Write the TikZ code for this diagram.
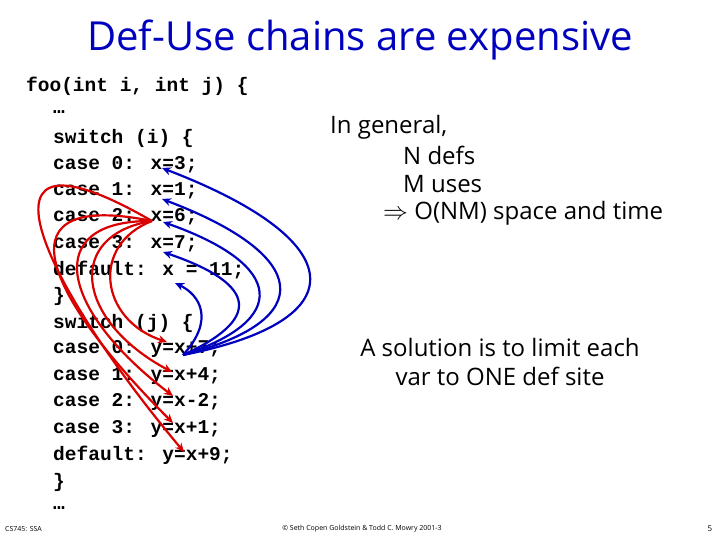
\documentclass[tikz,border=0pt]{standalone}
\usepackage{fontspec}
\setmainfont{Open Sans}
\newfontfamily\codefont{Liberation Mono}
\usetikzlibrary{arrows.meta}
\begin{document}
\begin{tikzpicture}[x=1pt,y=-1pt,
  code/.style={anchor=west,inner sep=0pt,font=\codefont\bfseries\fontsize{19.5}{19.5}\selectfont},
  txt/.style={inner sep=0pt,font=\fontsize{24}{29}\selectfont},
  blu/.style={draw=blue!75!black,line width=2.2pt,-{Stealth[length=9pt,width=8pt]}},
  rd/.style={draw=red!85!black,line width=2.2pt,-{Stealth[length=9pt,width=8pt]}}]
\useasboundingbox (0,0) rectangle (720,540);
\node[inner sep=0pt,text=blue!75!black,font=\fontsize{40}{44}\selectfont] (title) at (360,40) {Def-Use chains are expensive};
\node[code] (l0) at (26,86) {foo(int i, int j) \{};
\foreach \t/\y [count=\i] in {…/112, switch (i) \{/138, case 0: x=3;/165, case 1: x=1;/191, case 2: x=6;/217, case 3: x=7;/244, default: x = 11;/270, \}/296, switch (j) \{/323, case 0: y=x+7;/349, case 1: y=x+4;/376, case 2: y=x-2;/402, case 3: y=x+1;/429, default: y=x+9;/455, \}/482, …/508}
  \node[code] (l\i) at (53,\y) {\t};
\node[txt,anchor=west] (g1) at (330,127) {In general,};
\node[txt,anchor=west] (g2) at (403,155) {N defs};
\node[txt,anchor=west] (g3) at (403,184) {M uses};
\node[txt,anchor=west] (g4) at (383,213) {$\Rightarrow$ O(NM) space and time};
\node[txt,align=center] (sol) at (500,362) {A solution is to limit each\\var to ONE def site};
\node[inner sep=0pt,font=\fontsize{7}{8}\selectfont,anchor=west] (f1) at (5,529) {CS745: SSA};
\node[inner sep=0pt,font=\fontsize{7}{8}\selectfont] (f2) at (362,529) {© Seth Copen Goldstein \& Todd C. Mowry 2001-3};
\node[inner sep=0pt,font=\fontsize{8}{8}\selectfont] (f3) at (710,529) {5};
\coordinate (u) at (183,355);
\coordinate (d0) at (162,168); \coordinate (d1) at (162,199);
\coordinate (d2) at (163,222); \coordinate (d3) at (163,252);
\coordinate (d4) at (175,283);
\coordinate (r) at (152,221);
\coordinate (e0) at (167,342); \coordinate (e1) at (172,372);
\coordinate (e2) at (173,396); \coordinate (e3) at (173,423);
\coordinate (e4) at (184,452);
\draw[blu] (u) .. controls (360,320) and (350,240) .. (d0);
\draw[blu] (u) .. controls (320,320) and (310,255) .. (d1);
\draw[blu] (u) .. controls (290,320) and (285,265) .. (d2);
\draw[blu] (u) .. controls (260,320) and (260,285) .. (d3);
\draw[blu] (u) .. controls (215,320) and (200,295) .. (d4);
\draw[rd] (r) .. controls (90,245) and (100,320) .. (e0);
\draw[rd] (r) .. controls (65,235) and (75,320) .. (e1);
\draw[rd] (r) .. controls (40,220) and (60,310) .. (e2);
\draw[rd] (r) .. controls (0,190) and (40,290) .. (e3);
\draw[rd] (r) .. controls (-40,110) and (40,280) .. (e4);
\end{tikzpicture}
\end{document}
